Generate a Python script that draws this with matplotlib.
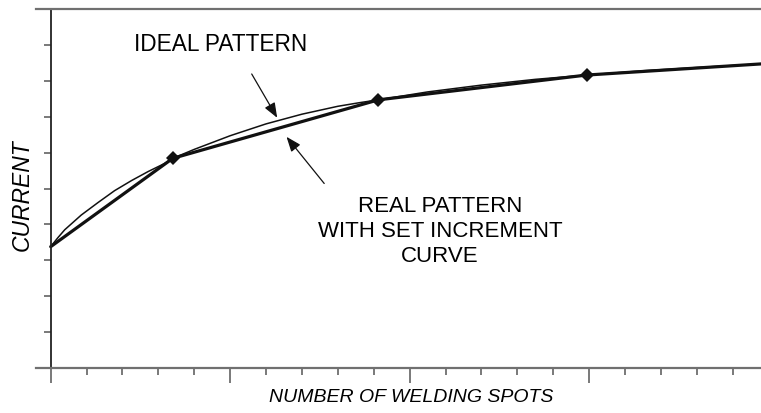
import matplotlib
matplotlib.use('Agg')
import matplotlib.pyplot as plt

plt.rcParams['font.family'] = ['Liberation Sans', 'DejaVu Sans']

# ── data (axis units = tick steps) ──
real_x = [0.0, 3.40, 9.13, 14.93, 19.79]
real_y = [3.38, 5.84, 7.47, 8.16, 8.47]

ideal_x = [0.0, 0.2, 0.39, 0.85, 1.32, 1.78, 2.25, 2.71, 3.18, 3.40,
           4.0, 5.0, 6.0, 7.0, 8.0, 8.6, 9.13,
           10.5, 12.0, 13.5, 14.93, 16.5, 18.0, 19.79]
ideal_y = [3.38, 3.63, 3.85, 4.26, 4.61, 4.94, 5.22, 5.47, 5.70, 5.84,
           6.09, 6.47, 6.80, 7.07, 7.29, 7.39, 7.47,
           7.69, 7.88, 8.04, 8.16, 8.28, 8.37, 8.47]

marker_x = real_x[1:4]
marker_y = real_y[1:4]

x_major = [0, 5, 10, 15]
x_minor = [i for i in range(1, 20) if i % 5]
y_ticks = list(range(1, 10))

W, H = 761, 413
fig = plt.figure(figsize=(W / 100, H / 100), dpi=100)
ax = fig.add_axes([36 / W, (H - 368) / H, 1 - 36 / W, (368 - 9) / H])
ax.set_xlim(-0.41, 19.79)
ax.set_ylim(0, 10)

ax.plot(ideal_x, ideal_y, color='#111111', lw=1.1, solid_joinstyle='round')
ax.plot(real_x, real_y, color='#111111', lw=2.3, solid_capstyle='round')
ax.plot(marker_x, marker_y, 'D', color='#111111', ms=7, markeredgewidth=0)

# arrows
ax.annotate('', xy=(6.31, 6.97), xytext=(5.60, 8.19),
            arrowprops=dict(arrowstyle='-|>,head_length=0.9,head_width=0.35',
                            color='#111111', lw=0.9, shrinkA=0, shrinkB=0))
ax.annotate('', xy=(6.57, 6.44), xytext=(7.62, 5.14),
            arrowprops=dict(arrowstyle='-|>,head_length=0.9,head_width=0.35',
                            color='#111111', lw=0.9, shrinkA=0, shrinkB=0))

ax.text(4.74, 9.0, 'IDEAL PATTERN', ha='center', va='center', fontsize=16.3)
ax.text(10.85, 3.80, 'REAL PATTERN\nWITH SET INCREMENT\nCURVE', ha='center',
        va='center', fontsize=16, linespacing=1.25, multialignment='center')

fig.text(22 / W, 1 - 195 / H, 'CURRENT', rotation=90, ha='center', va='center',
         fontsize=16.5, style='italic')
fig.text(411 / W, 1 - 397 / H, 'NUMBER OF WELDING SPOTS', ha='center',
         va='center', fontsize=14, style='italic')

# axes frame
ax.spines['right'].set_visible(False)
ax.spines['left'].set_position(('data', 0))
ax.spines['left'].set_color('#222222')
ax.spines['left'].set_linewidth(1.3)
for s in ['top', 'bottom']:
    ax.spines[s].set_color('#707070')
    ax.spines[s].set_linewidth(1.6)

ax.set_xticks(x_major)
ax.set_xticks(x_minor, minor=True)
ax.set_yticks(y_ticks)
ax.tick_params(axis='x', which='major', length=10.5, width=1.1, color='#555555',
               labelbottom=False)
ax.tick_params(axis='x', which='minor', length=5.2, width=1.1, color='#555555')
ax.tick_params(axis='y', length=5.2, width=1.1, color='#555555', labelleft=False)

fig.savefig('out.png', dpi=100)
